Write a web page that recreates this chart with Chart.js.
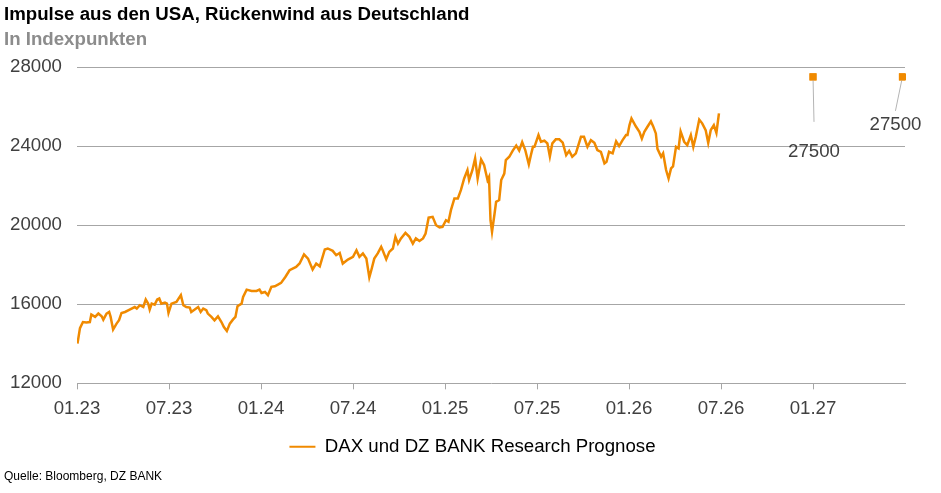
<!DOCTYPE html>
<html><head><meta charset="utf-8">
<script src="https://cdn.jsdelivr.net/npm/chart.js@4/dist/chart.umd.min.js"></script>
<style>
html,body{margin:0;padding:0;background:#fff;}
#wrap{position:relative;width:941px;height:493px;font-family:"Liberation Sans",Arial,sans-serif;overflow:hidden;}
#title{position:absolute;left:4px;top:3px;font-weight:bold;font-size:18.67px;color:#000;white-space:nowrap;}
#sub{position:absolute;left:4px;top:28px;font-weight:bold;font-size:18.67px;color:#8c8c8c;white-space:nowrap;}
#src{position:absolute;left:4px;top:469px;font-size:12px;color:#000;white-space:nowrap;}
canvas{position:absolute;left:0;top:0;}
</style></head><body>
<div id="wrap">
<canvas id="c" width="941" height="493"></canvas>
<div id="title">Impulse aus den USA, Rückenwind aus Deutschland</div>
<div id="sub">In Indexpunkten</div>
<div id="src">Quelle: Bloomberg, DZ BANK</div>
</div>
<script>
const seriesLabel = 'DAX und DZ BANK Research Prognose';
const tickLabels = ['01.23','07.23','01.24','07.24','01.25','07.25','01.26','07.26','01.27'];
const yTicks = [12000,16000,20000,24000,28000];
const dates = [
'2023-01-02','2023-01-07','2023-01-13','2023-01-20','2023-01-27','2023-01-30','2023-02-06','2023-02-12','2023-02-18','2023-02-21',
'2023-02-27','2023-03-04','2023-03-07','2023-03-12','2023-03-19','2023-03-24','2023-03-29','2023-04-05','2023-04-14','2023-04-24',
'2023-04-28','2023-05-04','2023-05-11','2023-05-16','2023-05-21','2023-05-24','2023-05-28','2023-06-03','2023-06-08','2023-06-12',
'2023-06-16','2023-06-23','2023-06-27','2023-06-30','2023-07-06','2023-07-16','2023-07-25','2023-07-30','2023-08-05','2023-08-12',
'2023-08-15','2023-08-22','2023-08-29','2023-09-03','2023-09-08','2023-09-14','2023-09-17','2023-09-24','2023-09-30','2023-10-07',
'2023-10-14','2023-10-19','2023-10-25','2023-10-31','2023-11-06','2023-11-11','2023-11-15','2023-11-23','2023-11-26','2023-12-03',
'2023-12-13','2023-12-23','2023-12-29','2024-01-02','2024-01-09','2024-01-15','2024-01-22','2024-01-29','2024-02-04','2024-02-10',
'2024-02-18','2024-02-26','2024-03-10','2024-03-17','2024-03-26','2024-04-03','2024-04-12','2024-04-19','2024-04-26','2024-05-06',
'2024-05-12','2024-05-22','2024-05-29','2024-06-05','2024-06-11','2024-06-21','2024-07-01','2024-07-08','2024-07-14','2024-07-21',
'2024-07-28','2024-08-03','2024-08-07','2024-08-13','2024-08-20','2024-08-27','2024-08-30','2024-09-06','2024-09-12','2024-09-19',
'2024-09-24','2024-09-29','2024-10-05','2024-10-14','2024-10-22','2024-10-29','2024-11-04','2024-11-11','2024-11-18','2024-11-23',
'2024-11-29','2024-12-07','2024-12-14','2024-12-21','2024-12-27','2025-01-03','2025-01-08','2025-01-13','2025-01-20','2025-01-27',
'2025-02-02','2025-02-08','2025-02-14','2025-02-17','2025-02-23','2025-02-28','2025-03-05','2025-03-12','2025-03-18','2025-03-25',
'2025-03-28','2025-03-31','2025-04-03','2025-04-08','2025-04-11','2025-04-17','2025-04-21','2025-04-27','2025-04-30','2025-05-07',
'2025-05-14','2025-05-21','2025-05-27','2025-06-02','2025-06-08','2025-06-15','2025-06-19','2025-06-23','2025-06-26','2025-07-04',
'2025-07-09','2025-07-16','2025-07-22','2025-07-27','2025-08-01','2025-08-08','2025-08-15','2025-08-22','2025-08-29','2025-09-04',
'2025-09-10','2025-09-17','2025-09-27','2025-10-03','2025-10-10','2025-10-17','2025-10-24','2025-10-30','2025-11-06','2025-11-13',
'2025-11-17','2025-11-22','2025-11-29','2025-12-06','2025-12-12','2025-12-19','2025-12-26','2025-12-29','2026-01-02','2026-01-06',
'2026-01-15','2026-01-22','2026-01-27','2026-02-01','2026-02-07','2026-02-13','2026-02-17','2026-02-22','2026-02-25','2026-03-04',
'2026-03-08','2026-03-14','2026-03-19','2026-03-24','2026-03-28','2026-04-03','2026-04-08','2026-04-12','2026-04-19','2026-04-25',
'2026-05-02','2026-05-07','2026-05-12','2026-05-19','2026-05-25','2026-06-01','2026-06-06','2026-06-11','2026-06-17','2026-06-22',
'2026-06-27'];
const dax = [
14010,14790,15100,15080,15100,15480,15360,15530,15390,15220,
15530,15610,15360,14720,15020,15190,15560,15610,15730,15860,
15780,15950,15860,16240,16030,15730,16030,15980,16240,16290,
16030,16080,16030,15560,16030,16120,16460,15950,15860,15830,
15610,15730,15860,15610,15780,15700,15530,15360,15190,15390,
15100,14850,14650,15020,15220,15360,15900,16030,16370,16740,
16670,16670,16740,16570,16620,16460,16880,16910,16990,17080,
17380,17720,17890,18060,18520,18310,17760,18060,17920,18770,
18820,18700,18480,18590,18060,18260,18400,18730,18400,18570,
18310,17360,17720,18310,18570,18900,18730,18280,18650,18820,
19410,19070,19330,19610,19410,19070,19330,19200,19330,19580,
20380,20420,20000,19880,19910,20250,20170,20760,21350,21350,
21770,22360,22780,22280,22780,23380,22360,23320,23040,22280,
22440,20250,19660,20590,21180,21270,22280,22610,23290,23460,
23770,24030,23770,24200,23800,23080,23540,23960,23960,24560,
24220,24270,24140,23470,24140,24340,24340,24170,23540,23760,
23460,23630,24470,24470,23960,24300,24170,23800,23710,23120,
23200,23710,23630,24240,24000,24300,24560,24560,25060,25400,
24990,24720,24380,24720,24990,25250,25010,24640,23860,23460,
23630,22790,22360,22870,22970,23960,23880,24740,24220,24050,
24560,23960,24470,25340,25150,24810,24160,24810,25060,24670,
25650];
const forecastDates = ['2027-01-01','2027-06-26'];
const forecastValues = [27500, 27500];

const ORANGE = '#F08A00';
const GRID = '#a6a6a6';
const FONT = '"Liberation Sans", Arial, sans-serif';

function monthIndex(s){
  const [y,m,d] = s.split('-').map(Number);
  const dim = new Date(y, m, 0).getDate();
  return (y-2023)*12 + (m-1) + (d-1)/dim;
}

const points = dates.map((d,i)=>({x: monthIndex(d), y: dax[i]}));
forecastDates.forEach((d,i)=>{
  const x = monthIndex(d);
  const prev = points[points.length-1].x;
  points.push({x:(prev+x)/2, y:null});
  points.push({x:x, y:forecastValues[i], f:i+1});
});

const fcLabels = {
  id:'fcLabels',
  afterDatasetsDraw(chart, args, opts){
    const meta = chart.getDatasetMeta(0);
    const ctx = chart.ctx;
    ctx.save();
    meta.data.forEach((el, i)=>{
      const raw = chart.data.datasets[0].data[i];
      if(!raw || !raw.f) return;
      const o = opts.offsets[raw.f-1];
      ctx.strokeStyle = opts.leaderColor;
      ctx.lineWidth = 1;
      ctx.beginPath();
      ctx.moveTo(el.x, el.y);
      ctx.lineTo(el.x + o.lx, el.y + o.ly);
      ctx.stroke();
      ctx.fillStyle = opts.color;
      ctx.font = opts.font;
      ctx.textAlign = 'center';
      ctx.textBaseline = 'middle';
      ctx.fillText(String(raw.y), el.x + o.tx, el.y + o.ty);
    });
    ctx.restore();
    meta.data.forEach((el,i)=>{
      const raw = chart.data.datasets[0].data[i];
      if(raw && raw.f) el.draw(ctx, chart.chartArea);
    });
  }
};

const legendShift = {
  id:'legendShift',
  afterLayout(chart, args, opts){
    if(chart.legend){ chart.legend.left += opts.dx; chart.legend.right += opts.dx; }
  }
};

new Chart(document.getElementById('c'), {
  type:'line',
  data:{ datasets:[{
    label: seriesLabel,
    data: points,
    borderColor: ORANGE,
    backgroundColor: ORANGE,
    borderWidth: 2.5,
    tension: 0,
    spanGaps: false,
    pointStyle: 'rect',
    pointRadius: c => (c.raw && c.raw.f) ? 5 : 0,
    pointHoverRadius: c => (c.raw && c.raw.f) ? 5 : 0,
    pointBorderWidth: 0,
    pointBackgroundColor: ORANGE,
    pointBorderColor: ORANGE
  }]},
  options:{
    responsive:false,
    animation:false,
    devicePixelRatio:1,
    layout:{ padding:{ left:8, right:36, top:67, bottom:27 } },
    scales:{
      x:{
        type:'linear', min:0, max:54,
        afterBuildTicks: s => { s.ticks = tickLabels.map((l,i)=>({value:i*6})); },
        ticks:{ callback:(v,i)=>tickLabels[i], autoSkip:false, maxRotation:0, color:'#404040',
                font:{family:FONT, size:18.67}, padding:8 },
        grid:{ display:true, drawOnChartArea:false, drawTicks:true, tickLength:6, color:GRID },
        border:{ display:true, color:GRID, width:1 },
        afterFit: s => { s.height = 38; }
      },
      y:{
        min:12000, max:28000,
        afterBuildTicks: s => { s.ticks = yTicks.map(v=>({value:v})); },
        ticks:{ callback: v => String(v), color:'#404040', font:{family:FONT, size:18.67}, padding:15 },
        grid:{ drawTicks:false, color: c => (c.tick && c.tick.value===12000) ? 'rgba(0,0,0,0)' : GRID },
        border:{ display:false },
        afterFit: s => { s.width = 69; }
      }
    },
    plugins:{
      title:{display:false},
      tooltip:{enabled:false},
      legend:{
        display:true, position:'bottom',
        labels:{
          boxWidth:26, boxHeight:2, padding:16, color:'#000',
          font:{family:FONT, size:18.67},
          generateLabels: ch => [{text: seriesLabel, fillStyle: ORANGE, strokeStyle: ORANGE, lineWidth:0, hidden:false, datasetIndex:0}]
        }
      },
      legendShift:{ dx:16 },
      fcLabels:{
        color:'#404040', leaderColor:'#b4b4b4',
        font:'18.67px ' + FONT,
        offsets:[ {lx:1, ly:45, tx:1, ty:75}, {lx:-7, ly:34, tx:-7, ty:48} ]
      }
    }
  },
  plugins:[fcLabels, legendShift]
});
</script>
</body></html>
